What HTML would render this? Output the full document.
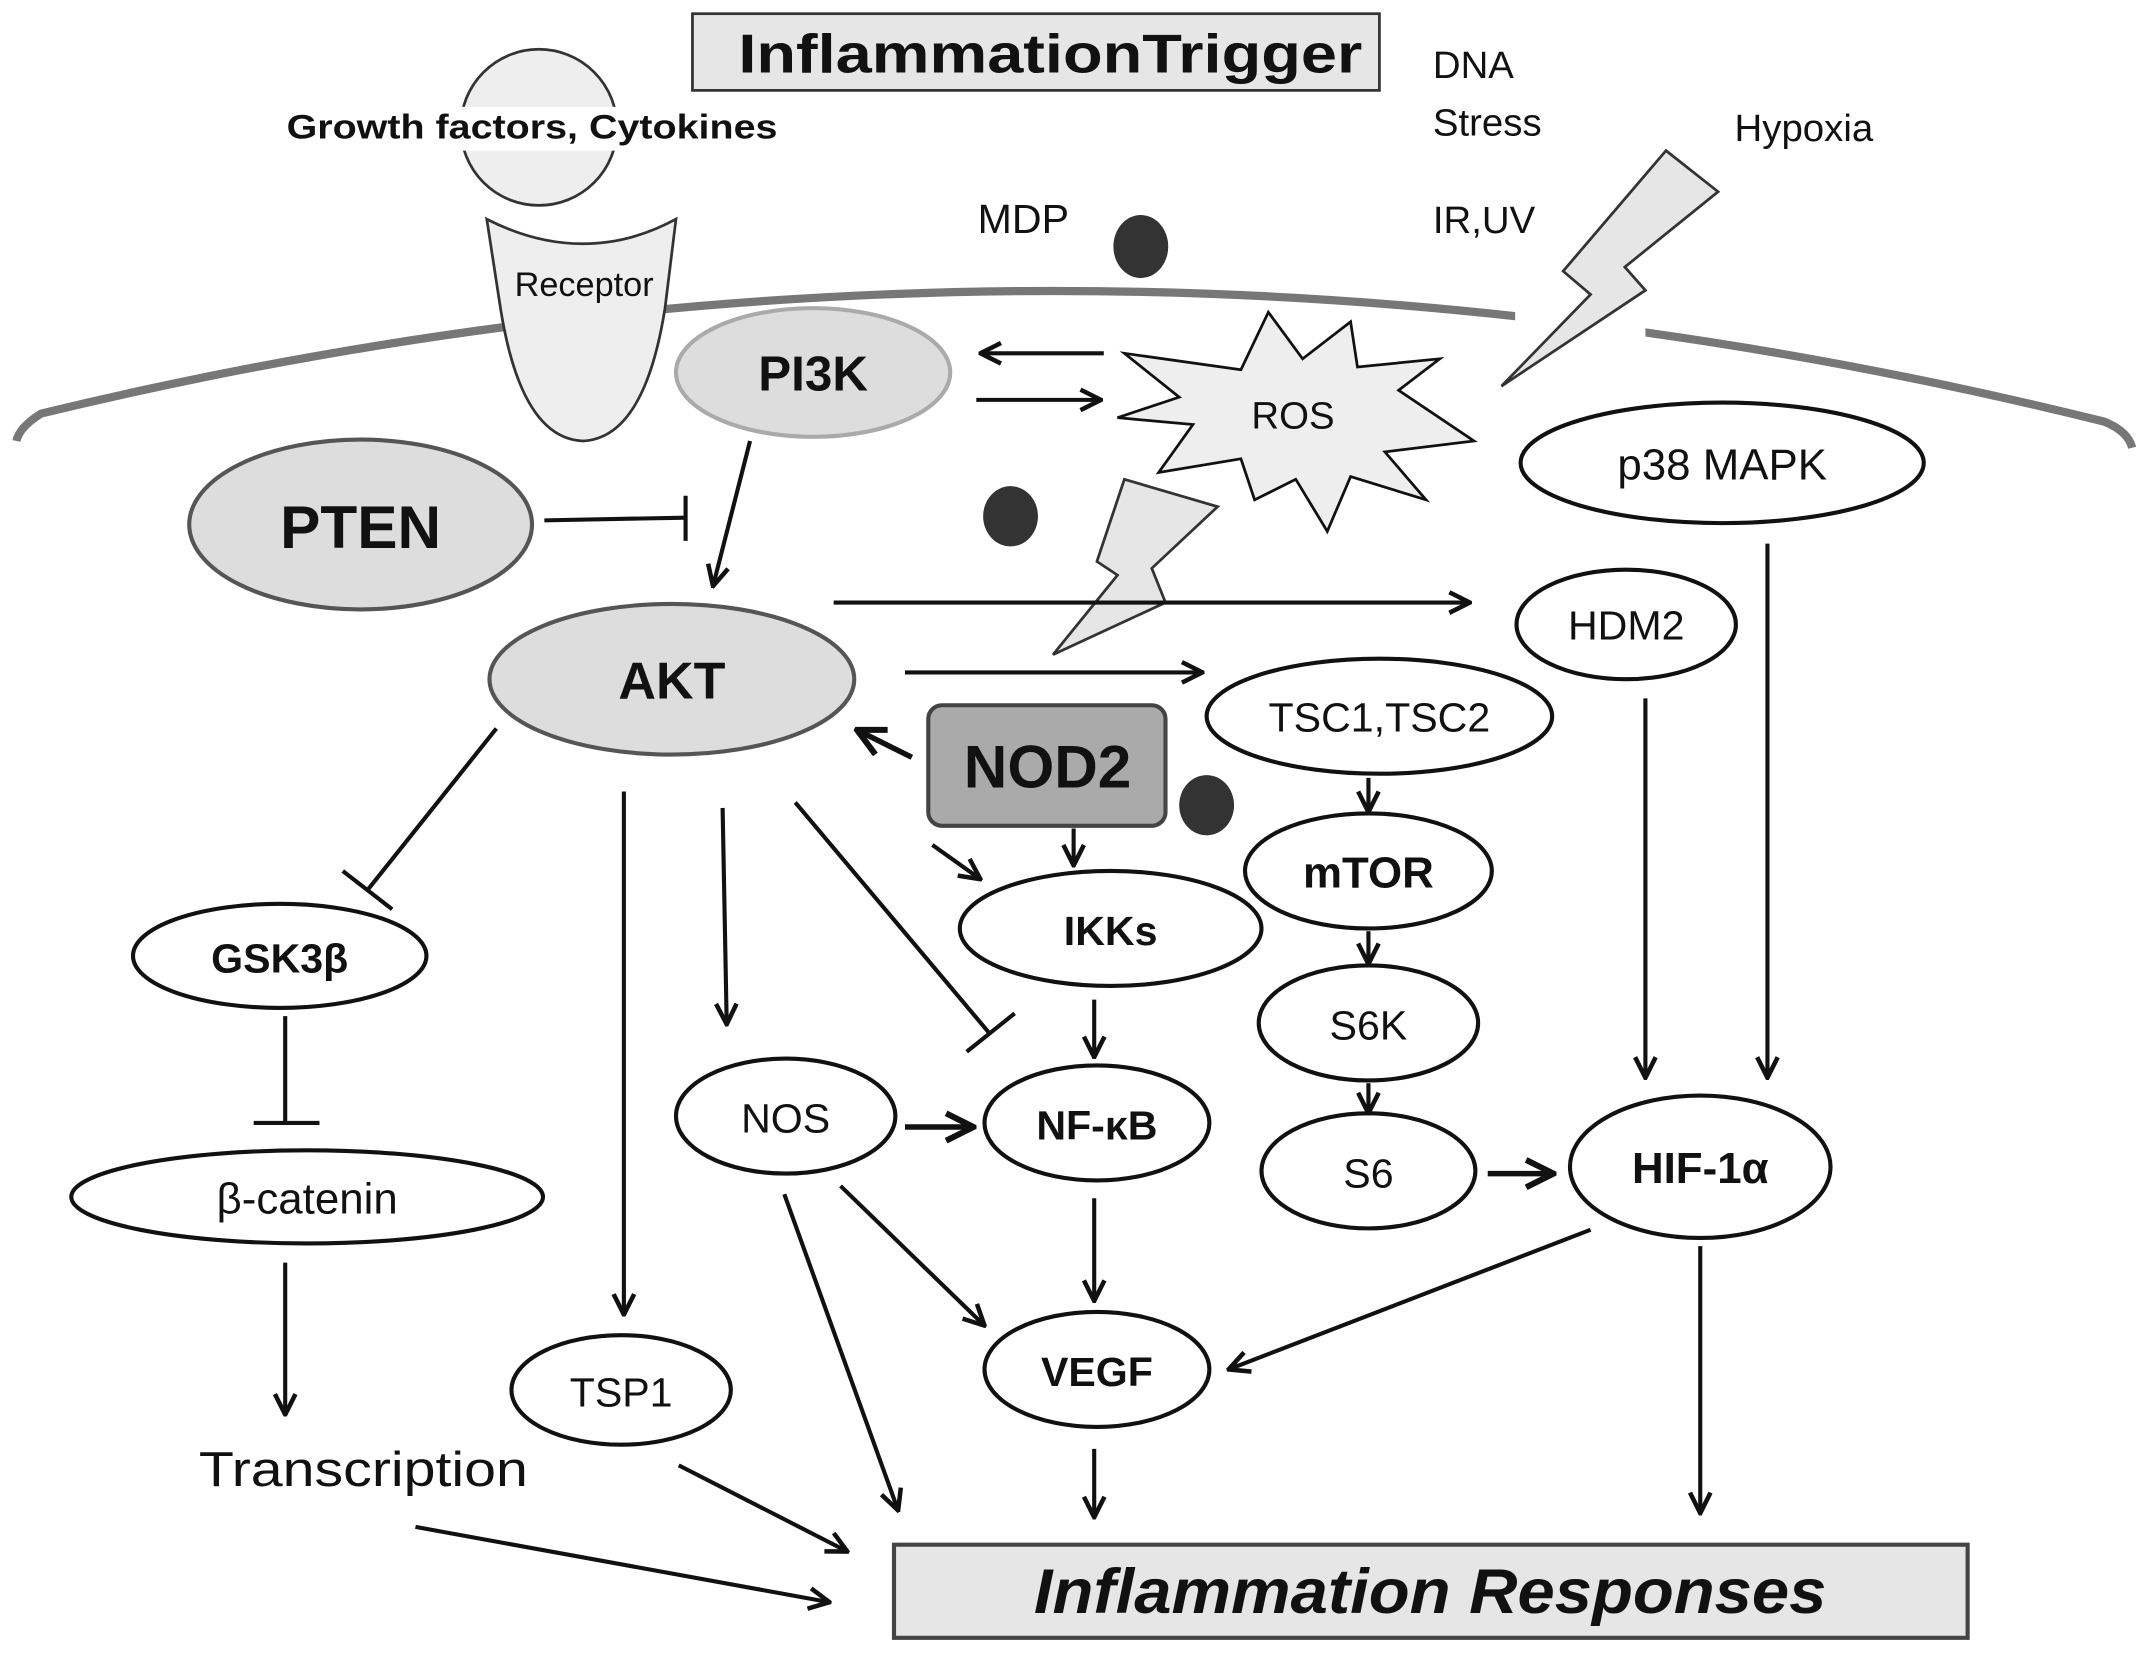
<!DOCTYPE html>
<html><head><meta charset="utf-8"><style>
html,body{margin:0;padding:0;background:#fff;}
svg{display:block;}
text{font-family:"Liberation Sans",sans-serif;fill:#111;}
</style></head><body>
<svg width="2150" height="1657" viewBox="0 0 1568 1210" preserveAspectRatio="none" xmlns="http://www.w3.org/2000/svg">
<defs>
<marker id="a" viewBox="0 0 12 12" refX="11" refY="6" markerWidth="6" markerHeight="6" orient="auto" markerUnits="strokeWidth">
<path d="M1,1 L11,6 L1,11" fill="none" stroke="#111" stroke-width="2.2"/>
</marker>
</defs>
<!-- membrane -->
<path d="M12,322 Q14,312 30,302 Q780,120 1535,308 Q1552,315 1555,327" fill="none" stroke="#777" stroke-width="6"/>
<polygon points="1105,215 1200,222 1200,250 1105,245" fill="#fff"/>
<!-- trigger -->
<rect x="505" y="10" width="501" height="56" fill="#e6e6e6" stroke="#333" stroke-width="2"/>
<text x="766" y="53" font-size="40" font-weight="bold" text-anchor="middle" textLength="455" lengthAdjust="spacingAndGlyphs">InflammationTrigger</text>
<text x="1045" y="57" font-size="28">DNA</text>
<text x="1045" y="99" font-size="28">Stress</text>
<text x="1045" y="170" font-size="28">IR,UV</text>
<text x="1265" y="103" font-size="28">Hypoxia</text>
<!-- growth factor -->
<circle cx="393" cy="93" r="57" fill="#eee" stroke="#333" stroke-width="2"/>
<rect x="205" y="78" width="365" height="32" fill="#fff"/>
<text x="388" y="101" font-size="25" font-weight="bold" text-anchor="middle" textLength="358" lengthAdjust="spacingAndGlyphs">Growth factors, Cytokines</text>
<!-- receptor -->
<path d="M355,160 Q390,178 425,178 Q460,178 493,160 L485,225 Q470,320 425,322 Q380,320 365,225 Z" fill="#eee" stroke="#333" stroke-width="2"/>
<text x="426" y="216" font-size="25" text-anchor="middle">Receptor</text>
<!-- lightning 1 -->
<polygon points="1215,110 1253,140 1185,195 1200,212 1095,282 1160,215 1140,198" fill="#e6e6e6" stroke="#333" stroke-width="2"/>
<text x="713" y="170" font-size="30">MDP</text>
<ellipse cx="832" cy="180" rx="20" ry="23" fill="#333"/>
<ellipse cx="737" cy="377" rx="20" ry="22" fill="#333"/>
<ellipse cx="880" cy="588" rx="20" ry="22" fill="#333"/>
<!-- PI3K -->
<ellipse cx="593" cy="272" rx="100" ry="47" fill="#ddd" stroke="#aaa" stroke-width="3"/>
<text x="593" y="285" font-size="36" font-weight="bold" text-anchor="middle">PI3K</text>
<g stroke="#111" stroke-width="3" fill="none" marker-end="url(#a)">
<line x1="805" y1="258" x2="715" y2="258"/>
<line x1="712" y1="292" x2="803" y2="292"/>
</g>
<!-- ROS -->
<polygon points="820,258 905,270 925,228 950,262 985,235 990,268 1050,262 1020,285 1075,322 1010,330 1040,365 985,348 968,388 945,350 915,365 905,335 845,345 870,310 815,305 860,290" fill="#eee" stroke="#111" stroke-width="2"/>
<text x="943" y="313" font-size="28" text-anchor="middle">ROS</text>
<!-- lightning 2 -->
<polygon points="820,350 888,370 840,415 850,440 768,478 815,420 800,410" fill="#e6e6e6" stroke="#333" stroke-width="2"/>
<!-- p38 -->
<ellipse cx="1256" cy="338" rx="147" ry="44" fill="#fff" stroke="#111" stroke-width="3"/>
<text x="1256" y="350" font-size="32" text-anchor="middle">p38 MAPK</text>
<!-- PTEN -->
<ellipse cx="263" cy="383" rx="125" ry="62" fill="#ddd" stroke="#555" stroke-width="3"/>
<text x="263" y="400" font-size="44" font-weight="bold" text-anchor="middle">PTEN</text>
<g stroke="#111" stroke-width="3" fill="none">
<line x1="397" y1="380" x2="500" y2="378"/>
<line x1="500" y1="362" x2="500" y2="395"/>
</g>
<!-- AKT -->
<ellipse cx="490" cy="496" rx="133" ry="55" fill="#ddd" stroke="#555" stroke-width="3"/>
<text x="490" y="510" font-size="38" font-weight="bold" text-anchor="middle">AKT</text>
<!-- HDM2, TSC -->
<ellipse cx="1186" cy="456" rx="80" ry="40" fill="#fff" stroke="#111" stroke-width="3"/>
<text x="1186" y="467" font-size="30" text-anchor="middle">HDM2</text>
<ellipse cx="1006" cy="523" rx="126" ry="42" fill="#fff" stroke="#111" stroke-width="3"/>
<text x="1006" y="534" font-size="30" text-anchor="middle">TSC1,TSC2</text>
<!-- NOD2 -->
<rect x="677" y="515" width="173" height="88" rx="10" fill="#aaa" stroke="#444" stroke-width="3"/>
<text x="764" y="575" font-size="44" font-weight="bold" text-anchor="middle">NOD2</text>
<!-- nodes -->
<ellipse cx="810" cy="678" rx="110" ry="42" fill="#fff" stroke="#111" stroke-width="3"/>
<text x="810" y="690" font-size="30" font-weight="bold" text-anchor="middle">IKKs</text>
<ellipse cx="998" cy="636" rx="90" ry="42" fill="#fff" stroke="#111" stroke-width="3"/>
<text x="998" y="648" font-size="32" font-weight="bold" text-anchor="middle">mTOR</text>
<ellipse cx="998" cy="747" rx="80" ry="42" fill="#fff" stroke="#111" stroke-width="3"/>
<text x="998" y="759" font-size="30" text-anchor="middle">S6K</text>
<ellipse cx="998" cy="855" rx="78" ry="42" fill="#fff" stroke="#111" stroke-width="3"/>
<text x="998" y="867" font-size="30" text-anchor="middle">S6</text>
<ellipse cx="1240" cy="852" rx="95" ry="52" fill="#fff" stroke="#111" stroke-width="3"/>
<text x="1240" y="864" font-size="32" font-weight="bold" text-anchor="middle">HIF-1α</text>
<ellipse cx="204" cy="698" rx="107" ry="38" fill="#fff" stroke="#111" stroke-width="3"/>
<text x="204" y="710" font-size="30" font-weight="bold" text-anchor="middle">GSK3β</text>
<ellipse cx="224" cy="874" rx="172" ry="34" fill="#fff" stroke="#111" stroke-width="3"/>
<text x="224" y="886" font-size="32" text-anchor="middle">β-catenin</text>
<text x="265" y="1085" font-size="36" text-anchor="middle" textLength="240" lengthAdjust="spacingAndGlyphs">Transcription</text>
<ellipse cx="453" cy="1015" rx="80" ry="40" fill="#fff" stroke="#111" stroke-width="3"/>
<text x="453" y="1027" font-size="30" text-anchor="middle">TSP1</text>
<ellipse cx="573" cy="815" rx="80" ry="42" fill="#fff" stroke="#111" stroke-width="3"/>
<text x="573" y="827" font-size="30" text-anchor="middle">NOS</text>
<ellipse cx="800" cy="820" rx="82" ry="42" fill="#fff" stroke="#111" stroke-width="3"/>
<text x="800" y="832" font-size="30" font-weight="bold" text-anchor="middle">NF-κB</text>
<ellipse cx="800" cy="1000" rx="82" ry="42" fill="#fff" stroke="#111" stroke-width="3"/>
<text x="800" y="1012" font-size="30" font-weight="bold" text-anchor="middle">VEGF</text>
<!-- IR box -->
<rect x="652" y="1128" width="783" height="68" fill="#e6e6e6" stroke="#444" stroke-width="3"/>
<text x="1043" y="1178" font-size="46" font-weight="bold" font-style="italic" text-anchor="middle" textLength="578" lengthAdjust="spacingAndGlyphs">Inflammation Responses</text>
<!-- arrows -->
<g stroke="#111" stroke-width="3" fill="none" marker-end="url(#a)">
<line x1="547" y1="322" x2="520" y2="428"/>
<line x1="608" y1="440" x2="1072" y2="440"/>
<line x1="660" y1="491" x2="877" y2="491"/>
<line x1="665" y1="553" x2="625" y2="533" stroke-width="4"/>
<line x1="783" y1="605" x2="783" y2="632"/>
<line x1="680" y1="617" x2="715" y2="642"/>
<line x1="998" y1="568" x2="998" y2="593"/>
<line x1="998" y1="680" x2="998" y2="704"/>
<line x1="998" y1="791" x2="998" y2="813"/>
<line x1="1200" y1="510" x2="1200" y2="787"/>
<line x1="1289" y1="397" x2="1289" y2="787"/>
<line x1="1085" y1="857" x2="1133" y2="857" stroke-width="4"/>
<line x1="208" y1="922" x2="208" y2="1033"/>
<line x1="455" y1="578" x2="455" y2="960"/>
<line x1="527" y1="590" x2="530" y2="748"/>
<line x1="798" y1="730" x2="798" y2="772"/>
<line x1="660" y1="823" x2="710" y2="823" stroke-width="4"/>
<line x1="798" y1="875" x2="798" y2="950"/>
<line x1="613" y1="866" x2="718" y2="968"/>
<line x1="572" y1="872" x2="655" y2="1103"/>
<line x1="1160" y1="898" x2="896" y2="1000"/>
<line x1="1240" y1="910" x2="1240" y2="1105"/>
<line x1="798" y1="1058" x2="798" y2="1108"/>
<line x1="495" y1="1070" x2="618" y2="1133"/>
<line x1="303" y1="1115" x2="605" y2="1170"/>
</g>
<!-- inhibitions -->
<g stroke="#111" stroke-width="3" fill="none">
<line x1="362" y1="532" x2="268" y2="650"/>
<line x1="250" y1="636" x2="286" y2="664"/>
<line x1="208" y1="742" x2="208" y2="820"/>
<line x1="185" y1="820" x2="233" y2="820"/>
<line x1="580" y1="586" x2="722" y2="755"/>
<line x1="705" y1="768" x2="740" y2="740"/>
</g>
</svg>
</body></html>
